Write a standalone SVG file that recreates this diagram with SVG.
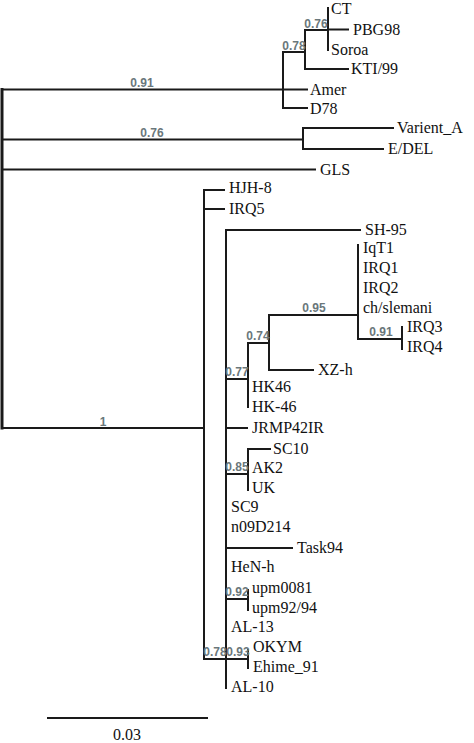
<svg xmlns="http://www.w3.org/2000/svg" width="474" height="743" viewBox="0 0 474 743">
<style>
.b{stroke:#1a1a1a;stroke-width:2;fill:none;stroke-linecap:square}
.t{font-family:"Liberation Serif","Times New Roman",serif;font-size:16px;fill:#111}
.s{font-family:"Liberation Sans",Arial,sans-serif;font-size:12px;font-weight:bold;fill:#6a777b;text-anchor:middle}
</style>
<rect width="474" height="743" fill="#fff"/>
<g id="connectors">
<path class="b" style="stroke-width:3" d="M2,89.5V428"/>
<path class="b" d="M2,89.5H283M283,52V108M283,52H305M305,30V69M305,30H328M328,8V50M328,29.5H348M305,69H348M283,89.5H307M283,108H307"/>
<path class="b" d="M2,139.5H303M303,128V149M303,128H393M303,149H383"/>
<path class="b" d="M2,169.5H315"/>
<path class="b" d="M2,428H204M204,190V659M204,190H224M204,209H224M204,659H226M226,230V688M226,230H360"/>
<path class="b" d="M226,379H248M248,343V407M248,343H269M269,315V370M269,315H358M358,245V339M358,339H402M402,327V349M269,370H313"/>
<path class="b" d="M226,428H247M226,474H248M248,449V490M248,449H270M226,548H292M226,599H248M248,590V610M226,659H248M248,650V668"/>
<path class="b" d="M48,718H207"/>
</g>
<g id="support">
<text class="s" x="142" y="87">0.91</text>
<text class="s" x="294" y="50">0.78</text>
<text class="s" x="316" y="28">0.76</text>
<text class="s" x="152" y="137">0.76</text>
<text class="s" x="103" y="426">1</text>
<text class="s" x="258" y="340">0.74</text>
<text class="s" x="314" y="312">0.95</text>
<text class="s" x="381" y="336">0.91</text>
<text class="s" x="237" y="376">0.77</text>
<text class="s" x="237" y="471">0.85</text>
<text class="s" x="237" y="596">0.92</text>
<text class="s" x="215" y="656">0.78</text>
<text class="s" x="238" y="656">0.93</text>
</g>
<g id="CT"><text class="t" x="331" y="14">CT</text></g>
<g id="PBG98"><text class="t" x="353" y="35">PBG98</text></g>
<g id="Soroa"><text class="t" x="331" y="55">Soroa</text></g>
<g id="KTI99"><text class="t" x="351" y="74">KTI/99</text></g>
<g id="Amer"><text class="t" x="310" y="95">Amer</text></g>
<g id="D78"><text class="t" x="310" y="114">D78</text></g>
<g id="Varient_A"><text class="t" x="397" y="133">Varient_A</text></g>
<g id="EDEL"><text class="t" x="388" y="154">E/DEL</text></g>
<g id="GLS"><text class="t" x="320" y="175">GLS</text></g>
<g id="HJH-8"><text class="t" x="229" y="193">HJH-8</text></g>
<g id="IRQ5"><text class="t" x="229" y="214">IRQ5</text></g>
<g id="SH-95"><text class="t" x="365" y="235">SH-95</text></g>
<g id="IqT1"><text class="t" x="363" y="253">IqT1</text></g>
<g id="IRQ1"><text class="t" x="363" y="273">IRQ1</text></g>
<g id="IRQ2"><text class="t" x="363" y="293">IRQ2</text></g>
<g id="chslemani"><text class="t" x="363" y="313">ch/slemani</text></g>
<g id="IRQ3"><text class="t" x="407" y="332">IRQ3</text></g>
<g id="IRQ4"><text class="t" x="407" y="352">IRQ4</text></g>
<g id="XZ-h"><text class="t" x="318" y="375">XZ-h</text></g>
<g id="HK46"><text class="t" x="252" y="392">HK46</text></g>
<g id="HK-46"><text class="t" x="252" y="412">HK-46</text></g>
<g id="JRMP42IR"><text class="t" x="252" y="433">JRMP42IR</text></g>
<g id="SC10"><text class="t" x="273" y="454">SC10</text></g>
<g id="AK2"><text class="t" x="252" y="473">AK2</text></g>
<g id="UK"><text class="t" x="252" y="493">UK</text></g>
<g id="SC9"><text class="t" x="231" y="512">SC9</text></g>
<g id="n09D214"><text class="t" x="231" y="532">n09D214</text></g>
<g id="Task94"><text class="t" x="297" y="553">Task94</text></g>
<g id="HeN-h"><text class="t" x="231" y="572">HeN-h</text></g>
<g id="upm0081"><text class="t" x="252" y="593">upm0081</text></g>
<g id="upm9294"><text class="t" x="252" y="613">upm92/94</text></g>
<g id="AL-13"><text class="t" x="231" y="632">AL-13</text></g>
<g id="OKYM"><text class="t" x="253" y="652">OKYM</text></g>
<g id="Ehime_91"><text class="t" x="253" y="672">Ehime_91</text></g>
<g id="AL-10"><text class="t" x="231" y="692">AL-10</text></g>
<g id="scale"><text class="t" x="127" y="740" text-anchor="middle">0.03</text></g>
</svg>
